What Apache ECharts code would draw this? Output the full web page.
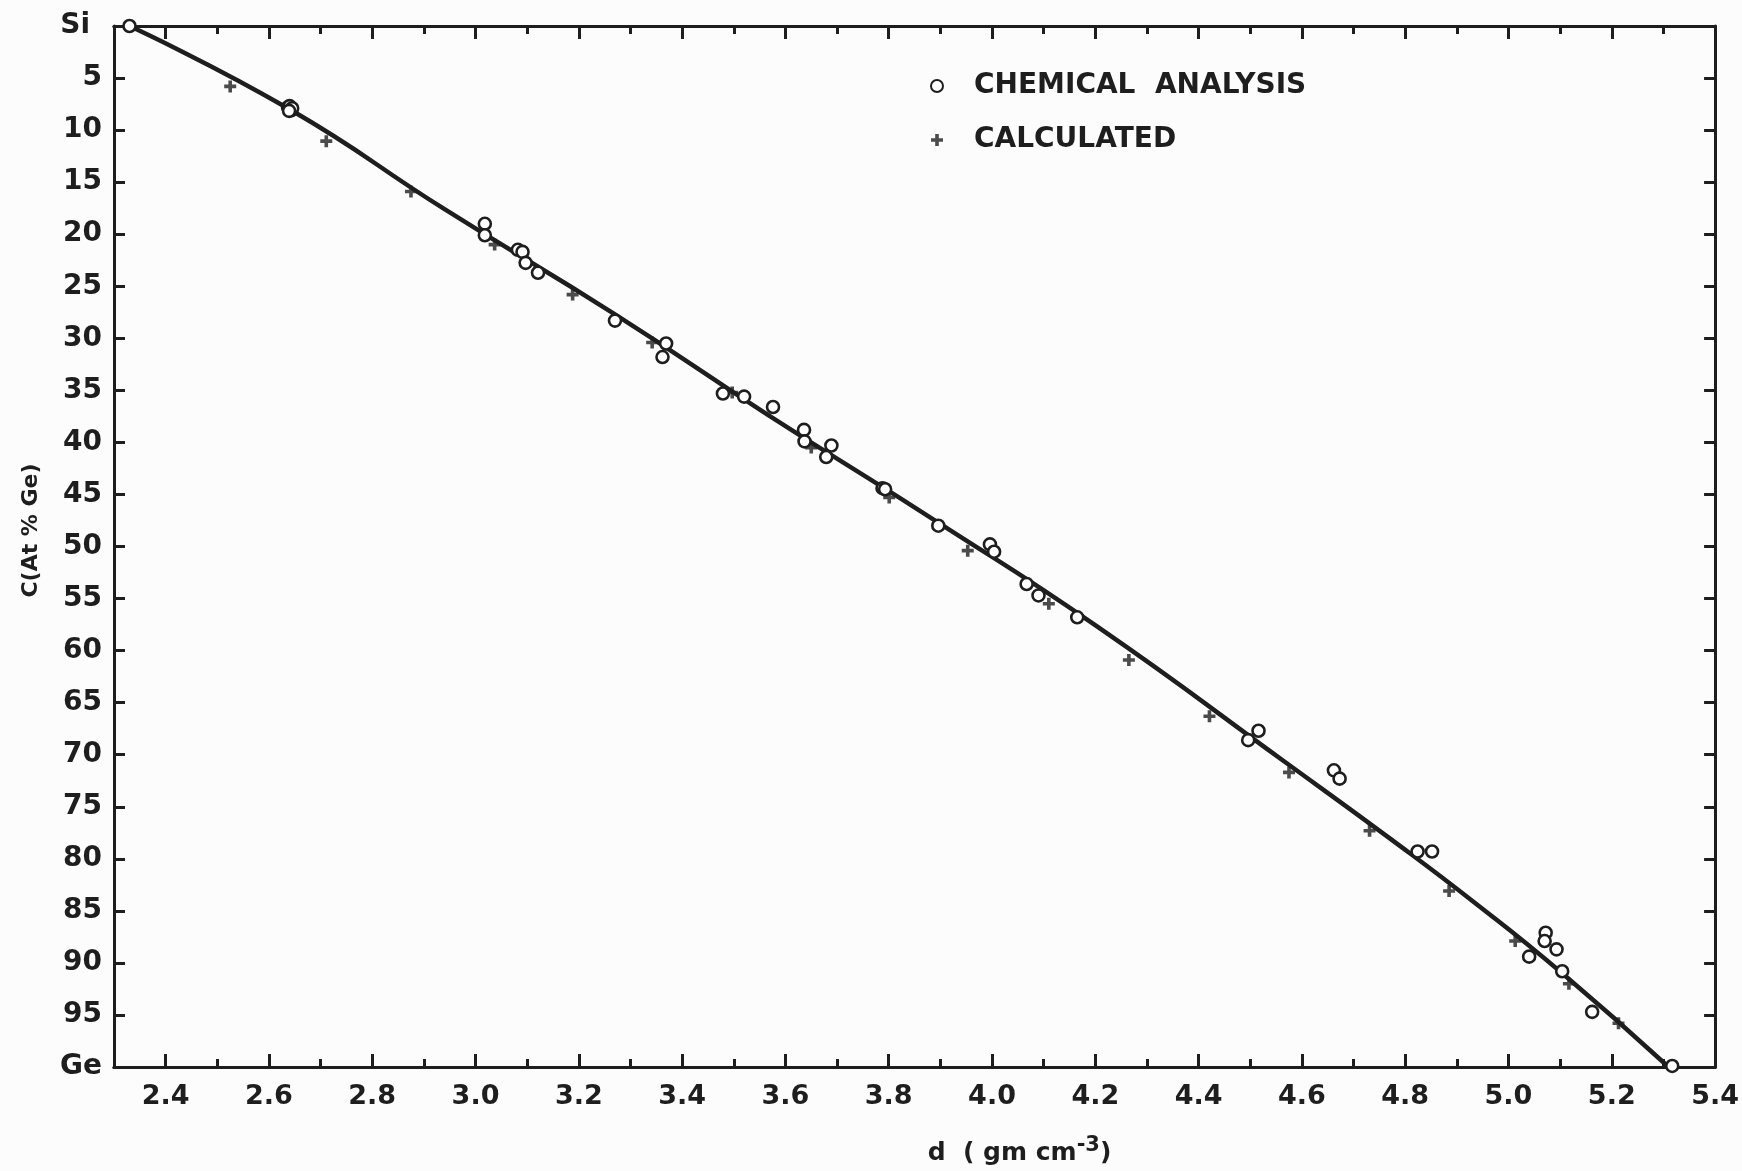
<!DOCTYPE html>
<html>
<head>
<meta charset="utf-8">
<script src="https://cdn.jsdelivr.net/npm/echarts@6/dist/echarts.min.js"></script>
<style>
  html, body { margin: 0; padding: 0; background: #fcfcfc; }
  #chart { width: 1742px; height: 1171px; }
</style>
</head>
<body>
<div id="chart"></div>
<script>
// Si-Ge alloy: composition vs density

// x axis ticks (d, gm cm-3)
const xMajorTicks = [2.4, 2.6, 2.8, 3.0, 3.2, 3.4, 3.6, 3.8, 4.0, 4.2, 4.4, 4.6, 4.8, 5.0, 5.2, 5.4];
const xMinorTicks = [2.5, 2.7, 2.9, 3.1, 3.3, 3.5, 3.7, 3.9, 4.1, 4.3, 4.5, 4.7, 4.9, 5.1, 5.3];

// chemical analysis (open circles)
const chemD = [2.33, 2.637, 2.643, 2.640, 2.645, 2.639,
    3.018, 3.018, 3.082, 3.091, 3.097, 3.121, 3.270, 3.369, 3.362,
    3.479, 3.520, 3.576, 3.636, 3.637, 3.689, 3.679, 3.788, 3.793,
    3.896, 3.996, 4.004, 4.067, 4.090, 4.165,
    4.496, 4.516, 4.662, 4.673, 4.824, 4.852,
    5.072, 5.070, 5.093, 5.040, 5.104, 5.162, 5.317];
const chemC = [0, 7.8, 8.1, 7.7, 7.9, 8.15,
    19.0, 20.1, 21.5, 21.7, 22.75, 23.7, 28.3, 30.5, 31.8,
    35.3, 35.6, 36.6, 38.8, 39.9, 40.3, 41.4, 44.4, 44.5,
    48.0, 49.8, 50.5, 53.6, 54.7, 56.8,
    68.6, 67.7, 71.5, 72.3, 79.3, 79.3,
    87.1, 87.9, 88.7, 89.4, 90.8, 94.7, 99.9];

// calculated (+)
const calcD = [2.525, 2.711, 2.875, 3.037, 3.188, 3.342, 3.497, 3.650, 3.801, 3.953,
    4.110, 4.265, 4.421, 4.575, 4.731, 4.885, 5.013, 5.117, 5.213];
const calcC = [5.8, 11.06, 15.9, 21.0, 25.8, 30.4, 35.2, 40.5, 45.3, 50.4,
    55.5, 60.9, 66.3, 71.7, 77.3, 83.1, 87.9, 92.0, 95.8];

// fitted curve
const curveD = [2.33, 2.64, 2.94, 3.27, 3.566, 3.896, 4.204, 4.57, 4.78, 4.934, 5.104, 5.31];
const curveC = [0, 8.0, 17.6, 27.7, 37.35, 47.7, 57.7, 70.8, 78.4, 84.2, 91.0, 100];

const ink = '#1e1e1e';
const fontFamily = '"DejaVu Sans", Arial, sans-serif';
const plusPath = 'path://M-1.8,-6 L1.8,-6 L1.8,-1.8 L6,-1.8 L6,1.8 L1.8,1.8 L1.8,6 L-1.8,6 L-1.8,1.8 L-6,1.8 L-6,-1.8 L-1.8,-1.8 Z';

function zip(a, b) {
    return a.map((v, i) => [v, b[i]]);
}

const chart = echarts.init(document.getElementById('chart'));

const xBase = {
    type: 'value',
    min: 2.3,
    max: 5.4,
    splitLine: { show: false },
    axisLine: { show: true, onZero: false, lineStyle: { color: ink, width: 3 } }
};

const option = {
    backgroundColor: '#fcfcfc',
    textStyle: { fontFamily: fontFamily },
    animation: false,
    grid: { left: 114, top: 26, right: 22, bottom: 99 },
    legend: {
        data: ['CHEMICAL  ANALYSIS', 'CALCULATED'],
        orient: 'vertical',
        left: 925,
        top: 67,
        itemWidth: 12,
        itemHeight: 12,
        itemGap: 26,
        textStyle: {
            fontFamily: fontFamily,
            fontWeight: 'bold',
            fontSize: 28,
            color: ink,
            padding: [0, 0, 0, 26]
        }
    },
    xAxis: [
        Object.assign({}, xBase, {
            position: 'bottom',
            name: 'd  ( gm cm{sup|-3})',
            nameLocation: 'middle',
            nameGap: 68,
            nameTextStyle: {
                fontSize: 25,
                fontWeight: 'bold',
                color: ink,
                padding: [0, 0, 0, 210],
                rich: {
                    sup: { fontSize: 21, fontWeight: 'bold', color: ink, verticalAlign: 'bottom', padding: [0, 0, 16, 0] }
                }
            },
            axisTick: { show: true, inside: true, length: 13, customValues: xMajorTicks, lineStyle: { color: ink, width: 3 } },
            axisLabel: {
                customValues: xMajorTicks,
                margin: 16,
                fontSize: 27,
                fontWeight: 'bold',
                color: ink,
                formatter: v => v.toFixed(1)
            }
        }),
        Object.assign({}, xBase, {
            position: 'bottom',
            axisTick: { show: true, inside: true, length: 8, customValues: xMinorTicks, lineStyle: { color: ink, width: 3 } },
            axisLabel: { show: false }
        }),
        Object.assign({}, xBase, {
            position: 'top',
            axisTick: { show: true, inside: true, length: 13, customValues: xMajorTicks, lineStyle: { color: ink, width: 3 } },
            axisLabel: { show: false }
        }),
        Object.assign({}, xBase, {
            position: 'top',
            axisTick: { show: true, inside: true, length: 8, customValues: xMinorTicks, lineStyle: { color: ink, width: 3 } },
            axisLabel: { show: false }
        })
    ],
    yAxis: [
        {
            type: 'value',
            inverse: true,
            min: 0,
            max: 100,
            interval: 5,
            position: 'left',
            name: 'C(At % Ge)',
            nameLocation: 'middle',
            nameGap: 72,
            nameTextStyle: { fontSize: 22, fontWeight: 'bold', color: ink, padding: [0, 0, 0, 32] },
            splitLine: { show: false },
            axisLine: { show: true, onZero: false, lineStyle: { color: ink, width: 3 } },
            axisTick: { show: true, inside: true, length: 11, lineStyle: { color: ink, width: 3 } },
            axisLabel: {
                margin: 12,
                fontSize: 28,
                fontWeight: 'bold',
                color: ink,
                formatter: v => (v === 0 ? '{si|Si}' : v === 100 ? 'Ge' : String(v)),
                rich: {
                    si: { fontSize: 28, fontWeight: 'bold', color: ink, padding: [0, 12, 0, 0] }
                }
            }
        },
        {
            type: 'value',
            inverse: true,
            min: 0,
            max: 100,
            interval: 5,
            position: 'right',
            splitLine: { show: false },
            axisLine: { show: true, onZero: false, lineStyle: { color: ink, width: 3 } },
            axisTick: { show: true, inside: true, length: 11, lineStyle: { color: ink, width: 3 } },
            axisLabel: { show: false }
        }
    ],
    series: [
        {
            name: 'curve',
            type: 'line',
            data: zip(curveD, curveC),
            smooth: 0.5,
            showSymbol: false,
            lineStyle: { color: ink, width: 4.5 },
            z: 2
        },
        {
            name: 'CHEMICAL  ANALYSIS',
            type: 'scatter',
            data: zip(chemD, chemC),
            symbol: 'circle',
            symbolSize: 12,
            itemStyle: { color: '#ffffff', borderColor: ink, borderWidth: 2.6, opacity: 1 },
            z: 4
        },
        {
            name: 'CALCULATED',
            type: 'scatter',
            data: zip(calcD, calcC),
            symbol: plusPath,
            symbolSize: 12,
            itemStyle: { color: ink },
            z: 3
        }
    ]
};

chart.setOption(option);
</script>
</body>
</html>
